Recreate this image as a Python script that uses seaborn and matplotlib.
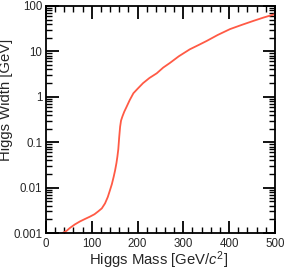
import matplotlib
matplotlib.use("Agg")
import matplotlib.pyplot as plt
import seaborn as sns
import pandas as pd
from matplotlib.ticker import MultipleLocator, LogLocator, FixedLocator, FixedFormatter, NullFormatter

mass = [36, 45, 52, 63, 74, 85, 96, 106, 114, 122, 129, 135, 140, 144, 148, 151, 154, 156, 158,
        160, 162, 164, 167, 171, 176, 183, 191, 200, 212, 226, 242, 256, 271, 290, 314, 335, 351,
        375, 402, 428, 453, 475, 493, 500]
width = [0.001, 0.00112, 0.00129, 0.00155, 0.0018, 0.00204, 0.0023, 0.0026, 0.0030, 0.0035, 0.0045,
         0.0062, 0.0089, 0.012, 0.0175, 0.024, 0.035, 0.048, 0.07,
         0.13, 0.22, 0.30, 0.37, 0.47, 0.60, 0.85, 1.2, 1.5, 2.0, 2.6, 3.3, 4.4, 5.6, 7.8, 11.1, 14.1, 17,
         23, 31, 38.5, 47, 55.6, 63, 66]
ytick_vals = [0.001, 0.01, 0.1, 1, 10, 100]
ytick_labels = ["0.001", "0.01", "0.1", "1", "10", "100"]
xtick_vals = [0, 100, 200, 300, 400, 500]

sns.set_style("ticks")
plt.rcParams['font.family'] = ['Liberation Sans', 'DejaVu Sans']
plt.rcParams['mathtext.fontset'] = 'custom'
plt.rcParams['mathtext.rm'] = 'Liberation Sans'
plt.rcParams['mathtext.it'] = 'Liberation Sans:italic'

df = pd.DataFrame({"mass": mass, "width": width})
fig = plt.figure(figsize=(2.87, 2.72), dpi=100)
ax = fig.add_axes([0.160, 0.143, 0.798, 0.835])
sns.lineplot(data=df, x="mass", y="width", ax=ax, color="#ff5a45", lw=1.3)
ax.set_yscale("log")
ax.set_xlim(0, 500)
ax.set_ylim(0.001, 100)
ax.xaxis.set_major_locator(FixedLocator(xtick_vals))
ax.xaxis.set_minor_locator(MultipleLocator(20))
ax.yaxis.set_major_locator(FixedLocator(ytick_vals))
ax.yaxis.set_major_formatter(FixedFormatter(ytick_labels))
ax.yaxis.set_minor_locator(LogLocator(base=10, subs=range(2, 10)))
ax.yaxis.set_minor_formatter(NullFormatter())
ax.tick_params(which="both", direction="in", top=True, right=True, color="black", labelsize=8.3)
ax.tick_params(axis="x", which="major", pad=3.5)
ax.tick_params(axis="y", which="major", pad=2.5)
ax.tick_params(which="major", length=9, width=1.3)
ax.tick_params(which="minor", length=4, width=1.0)
for s in ax.spines.values():
    s.set_linewidth(1.3)
    s.set_color("black")
ax.set_xlabel(r"Higgs Mass [GeV/$c^2$]", fontsize=10.7)
ax.set_ylabel("Higgs Width [GeV]", fontsize=10.7)
ax.xaxis.set_label_coords(0.493, -0.072)
ax.yaxis.set_label_coords(-0.144, 0.586)
fig.savefig("out.png", dpi=100)
